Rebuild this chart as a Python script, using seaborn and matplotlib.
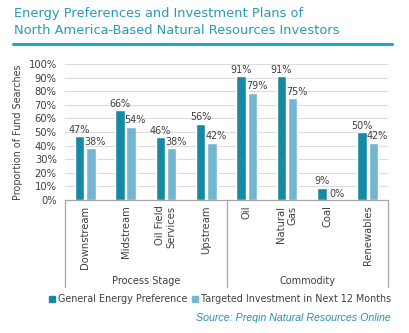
import matplotlib
matplotlib.use("Agg")
import matplotlib.pyplot as plt
from matplotlib.lines import Line2D
from matplotlib.ticker import FuncFormatter
import seaborn as sns
import pandas as pd

categories = ["Downstream", "Midstream", "Oil Field\nServices", "Upstream",
              "Oil", "Natural\nGas", "Coal", "Renewables"]
general_pref = [47, 66, 46, 56, 91, 91, 9, 50]
targeted_12m = [38, 54, 38, 42, 79, 75, 0, 42]
series_names = ["General Energy Preference", "Targeted Investment in Next 12 Months"]
groups = ["Process Stage", "Commodity"]
group_sizes = [4, 4]

df = pd.DataFrame({
    "category": categories * 2,
    "value": general_pref + targeted_12m,
    "series": [series_names[0]] * len(categories) + [series_names[1]] * len(categories),
})

sns.set_theme(style="white")
plt.rcParams["font.family"] = ["DejaVu Sans"]
text_col = "#404040"
palette = ["#1689a3", "#74b6d0"]

fig = plt.figure(figsize=(4.10, 3.33), dpi=100)
ax = fig.add_axes([65 / 410, 1 - 200 / 333, 323 / 410, 136 / 333])

sns.barplot(data=df, x="category", y="value", hue="series", palette=palette,
            width=0.56, gap=0.16, saturation=1, ax=ax, legend=False)

ax.set_xlim(-0.5, len(categories) - 0.5)
ax.set_ylim(0, 100)
ax.set_yticks(range(0, 101, 10))
ax.yaxis.set_major_formatter(FuncFormatter(lambda v, p: f"{v:.0f}%"))
ax.grid(axis="y", color="#dcdcdc", linewidth=0.8)
ax.set_axisbelow(True)
for s in ["left", "right", "top"]:
    ax.spines[s].set_visible(False)
ax.spines["bottom"].set_color("#a6a6a6")
ax.spines["bottom"].set_linewidth(0.9)
ax.tick_params(axis="y", length=0, labelsize=7.2, labelcolor=text_col, pad=6)
ax.tick_params(axis="x", length=0, labelsize=7.2, labelcolor=text_col, pad=4)
ax.set_xlabel("")
ax.set_ylabel("Proportion of Fund Searches", fontsize=6.9, color=text_col, labelpad=4)

for t in ax.get_xticklabels():
    t.set_rotation(90)
    t.set_multialignment("right")
    t.set_va("top")
    t.set_ha("center")

for k, cont in enumerate(ax.containers):
    labels = ax.bar_label(cont, fmt="%.0f%%", fontsize=6.9, color=text_col, padding=1)
    if k == 1:
        for lab in labels:
            lab.xyann = (3, lab.xyann[1])

# group separators and group names under the category labels
trans = ax.get_xaxis_transform()
edges = [-0.5]
for n in group_sizes:
    edges.append(edges[-1] + n)
for e in edges:
    ax.add_line(Line2D([e, e], [0, -87 / 136], transform=trans, color="#a6a6a6",
                       linewidth=0.9, clip_on=False))
for i, g in enumerate(groups):
    ax.text((edges[i] + edges[i + 1]) / 2, -81 / 136, g, transform=trans,
            ha="center", va="center", fontsize=7.0, color=text_col)

# legend
handles = [plt.Rectangle((0, 0), 1, 1, color=c) for c in palette]
fig.legend(handles, series_names, loc="center", bbox_to_anchor=(220 / 410, 1 - 299 / 333),
           ncol=2, frameon=False, fontsize=6.9, handlelength=0.6, handleheight=0.6,
           handletextpad=0.3, columnspacing=0.5, labelcolor=text_col)

# title and underline
fig.text(14 / 410, 1 - 13 / 333, "Energy Preferences and Investment Plans of",
         fontsize=9.35, color="#2a9ab8", va="center", ha="left")
fig.text(14 / 410, 1 - 30 / 333, "North America-Based Natural Resources Investors",
         fontsize=9.35, color="#2a9ab8", va="center", ha="left")
fig.add_artist(Line2D([13 / 410, 392 / 410], [1 - 44 / 333] * 2, transform=fig.transFigure,
                      color="#1ba8cf", linewidth=2.2))

fig.text(391 / 410, 1 - 318 / 333, "Source: Preqin Natural Resources Online",
         fontsize=7.7, color="#2a8db5", style="italic", ha="right", va="center",
         family=["Liberation Sans"])

fig.savefig("out.png", dpi=100)
